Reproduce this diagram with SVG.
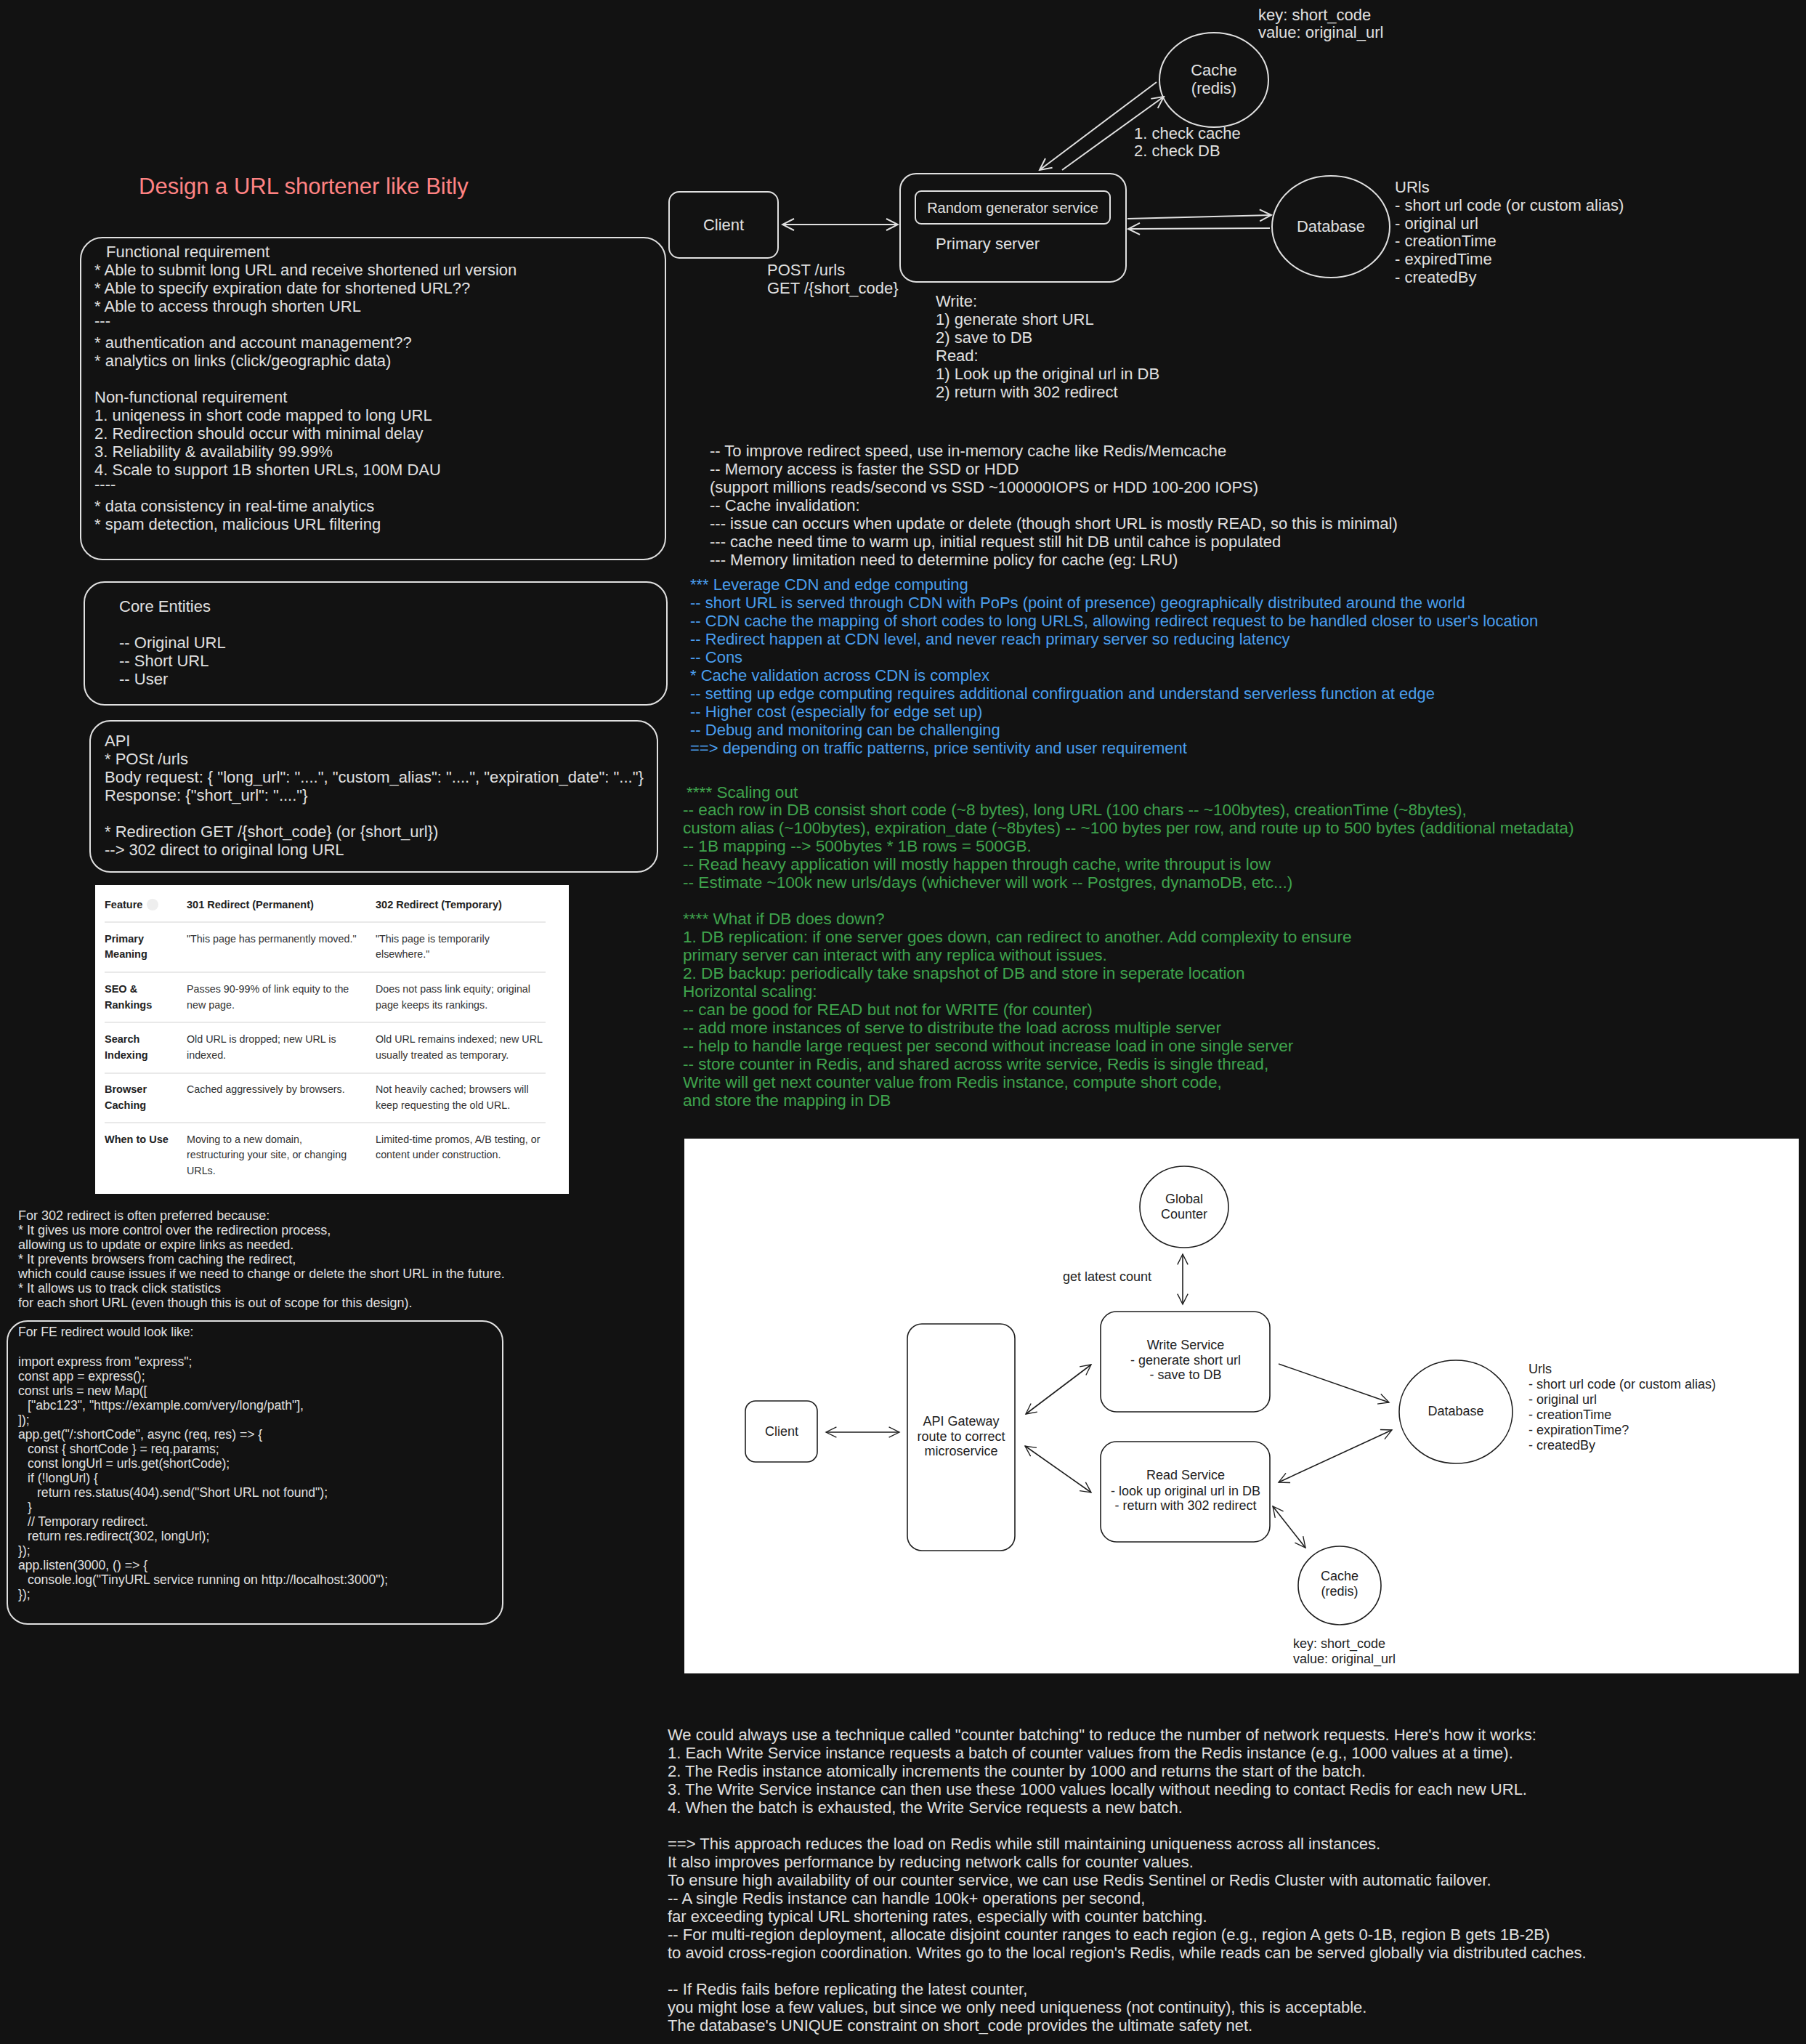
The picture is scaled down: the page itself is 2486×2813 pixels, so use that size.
<svg xmlns="http://www.w3.org/2000/svg" width="2486" height="2813" viewBox="0 0 2486 2813">
<defs>
<marker id="ah" viewBox="0 0 20 20" refX="18" refY="10" markerWidth="20" markerHeight="20" markerUnits="userSpaceOnUse" orient="auto-start-reverse">
<path d="M2,2 L18,10 L2,18" fill="none" stroke="#e0e0e0" stroke-width="2"/>
</marker>
<marker id="ahd" viewBox="0 0 20 20" refX="18" refY="10" markerWidth="18" markerHeight="18" markerUnits="userSpaceOnUse" orient="auto-start-reverse">
<path d="M2,2 L18,10 L2,18" fill="none" stroke="#1e1e1e" stroke-width="1.5"/>
</marker>
</defs>
<style>
text{font-family:"Liberation Sans",Arial,sans-serif}
.w{fill:#e0e0e0;font-size:22px}
.l{fill:#e0e0e0;font-size:22px}
.b{fill:#4a9eed;font-size:22px}
.g{fill:#3fa34d;font-size:22.6px}
.s{fill:#e0e0e0;font-size:18px}
.c{fill:#e0e0e0;font-size:17.6px}
.box{fill:none;stroke:#e0e0e0;stroke-width:2}
.conn{fill:none;stroke:#e0e0e0;stroke-width:2}
.tb{fill:#333;font-size:14.3px}
.th{fill:#222;font-size:14.5px;font-weight:bold}
.sep{stroke:#e2e2e2;stroke-width:1.5}
.dk{fill:none;stroke:#1e1e1e;stroke-width:1.6}
.dt{fill:#1e1e1e;font-size:18px}
.dc{fill:none;stroke:#1e1e1e;stroke-width:1.6}
</style>
<rect width="2486" height="2813" fill="#121212"/>

<text x="191" y="267" fill="#ff8383" font-size="31" id="title">Design a URL shortener like Bitly</text>

<g id="requirements">
<rect class="box" x="111" y="327" width="805" height="443" rx="30"/>
<text class="l" x="146" y="354">Functional requirement</text>
<text class="l" x="130" y="379">* Able to submit long URL and receive shortened url version</text>
<text class="l" x="130" y="404">* Able to specify expiration date for shortened URL??</text>
<text class="l" x="130" y="429">* Able to access through shorten URL</text>
<text class="l" x="130" y="449">---</text>
<text class="l" x="130" y="479">* authentication and account management??</text>
<text class="l" x="130" y="504">* analytics on links (click/geographic data)</text>
<text class="l" x="130" y="554">Non-functional requirement</text>
<text class="l" x="130" y="579">1. uniqeness in short code mapped to long URL</text>
<text class="l" x="130" y="604">2. Redirection should occur with minimal delay</text>
<text class="l" x="130" y="629">3. Reliability &amp; availability 99.99%</text>
<text class="l" x="130" y="654">4. Scale to support 1B shorten URLs, 100M DAU</text>
<text class="l" x="130" y="674">----</text>
<text class="l" x="130" y="704">* data consistency in real-time analytics</text>
<text class="l" x="130" y="729">* spam detection, malicious URL filtering</text>
</g>

<g id="core-entities">
<rect class="box" x="116" y="801" width="802" height="169" rx="28"/>
<text class="l" x="164" y="842">Core Entities</text>
<text class="l" x="164" y="892">-- Original URL</text>
<text class="l" x="164" y="917">-- Short URL</text>
<text class="l" x="164" y="942">-- User</text>
</g>

<g id="api">
<rect class="box" x="124" y="992" width="781" height="208" rx="28"/>
<text class="l" x="144" y="1027">API</text>
<text class="l" x="144" y="1052">* POSt /urls</text>
<text class="l" x="144" y="1077">Body request: { "long_url": "....", "custom_alias": "....", "expiration_date": "..."}</text>
<text class="l" x="144" y="1102">Response: {"short_url": "...."}</text>
<text class="l" x="144" y="1152">* Redirection GET /{short_code} (or {short_url})</text>
<text class="l" x="144" y="1177">--&gt; 302 direct to original long URL</text>
</g>

<g id="redirect-table">
<rect x="131" y="1218" width="652" height="425" fill="#ffffff"/>
<text class="th" x="144" y="1250">Feature</text>
<circle cx="210" cy="1245" r="8" fill="#eeeeee"/>
<text class="th" x="257" y="1250">301 Redirect (Permanent)</text>
<text class="th" x="517" y="1250">302 Redirect (Temporary)</text>
<line class="sep" x1="144" y1="1269" x2="751" y2="1269"/>
<text class="th" x="144" y="1297">Primary</text><text class="th" x="144" y="1318">Meaning</text>
<text class="tb" x="257" y="1297">"This page has permanently moved."</text>
<text class="tb" x="517" y="1297">"This page is temporarily</text><text class="tb" x="517" y="1318">elsewhere."</text>
<line class="sep" x1="144" y1="1338" x2="751" y2="1338"/>
<text class="th" x="144" y="1366">SEO &amp;</text><text class="th" x="144" y="1388">Rankings</text>
<text class="tb" x="257" y="1366">Passes 90-99% of link equity to the</text><text class="tb" x="257" y="1388">new page.</text>
<text class="tb" x="517" y="1366">Does not pass link equity; original</text><text class="tb" x="517" y="1388">page keeps its rankings.</text>
<line class="sep" x1="144" y1="1407" x2="751" y2="1407"/>
<text class="th" x="144" y="1435">Search</text><text class="th" x="144" y="1457">Indexing</text>
<text class="tb" x="257" y="1435">Old URL is dropped; new URL is</text><text class="tb" x="257" y="1457">indexed.</text>
<text class="tb" x="517" y="1435">Old URL remains indexed; new URL</text><text class="tb" x="517" y="1457">usually treated as temporary.</text>
<line class="sep" x1="144" y1="1477" x2="751" y2="1477"/>
<text class="th" x="144" y="1504">Browser</text><text class="th" x="144" y="1526">Caching</text>
<text class="tb" x="257" y="1504">Cached aggressively by browsers.</text>
<text class="tb" x="517" y="1504">Not heavily cached; browsers will</text><text class="tb" x="517" y="1526">keep requesting the old URL.</text>
<line class="sep" x1="144" y1="1545" x2="751" y2="1545"/>
<text class="th" x="144" y="1573">When to Use</text>
<text class="tb" x="257" y="1573">Moving to a new domain,</text><text class="tb" x="257" y="1594">restructuring your site, or changing</text><text class="tb" x="257" y="1616">URLs.</text>
<text class="tb" x="517" y="1573">Limited-time promos, A/B testing, or</text><text class="tb" x="517" y="1594">content under construction.</text>
</g>

<g id="why-302">
<text class="s" x="25" y="1679">For 302 redirect is often preferred because:</text>
<text class="s" x="25" y="1699">* It gives us more control over the redirection process,</text>
<text class="s" x="25" y="1719">allowing us to update or expire links as needed.</text>
<text class="s" x="25" y="1739">* It prevents browsers from caching the redirect,</text>
<text class="s" x="25" y="1759">which could cause issues if we need to change or delete the short URL in the future.</text>
<text class="s" x="25" y="1779">* It allows us to track click statistics</text>
<text class="s" x="25" y="1799">for each short URL (even though this is out of scope for this design).</text>
</g>

<g id="fe-code">
<rect class="box" x="10" y="1818" width="682" height="417" rx="28"/>
<text class="c" x="25" y="1839">For FE redirect would look like:</text>
<text class="c" x="25" y="1880">import express from "express";</text>
<text class="c" x="25" y="1900">const app = express();</text>
<text class="c" x="25" y="1920">const urls = new Map([</text>
<text class="c" x="38" y="1940">["abc123", "https://example.com/very/long/path"],</text>
<text class="c" x="25" y="1960">]);</text>
<text class="c" x="25" y="1980">app.get("/:shortCode", async (req, res) =&gt; {</text>
<text class="c" x="38" y="2000">const { shortCode } = req.params;</text>
<text class="c" x="38" y="2020">const longUrl = urls.get(shortCode);</text>
<text class="c" x="38" y="2040">if (!longUrl) {</text>
<text class="c" x="51" y="2060">return res.status(404).send("Short URL not found");</text>
<text class="c" x="38" y="2080">}</text>
<text class="c" x="38" y="2100">// Temporary redirect.</text>
<text class="c" x="38" y="2120">return res.redirect(302, longUrl);</text>
<text class="c" x="25" y="2140">});</text>
<text class="c" x="25" y="2160">app.listen(3000, () =&gt; {</text>
<text class="c" x="38" y="2180">console.log("TinyURL service running on http://localhost:3000");</text>
<text class="c" x="25" y="2200">});</text>
</g>

<g id="client">
<rect class="box" x="921" y="264" width="150" height="91" rx="14"/>
<text class="w" x="996" y="317" text-anchor="middle">Client</text>
</g>
<g id="primary-server">
<rect class="box" x="1239" y="239" width="311" height="149" rx="22"/>
<text class="w" x="1288" y="343">Primary server</text>
</g>
<g id="random-generator">
<rect class="box" x="1260" y="263" width="268" height="45" rx="8"/>
<text class="w" x="1394" y="293" text-anchor="middle" style="font-size:20px">Random generator service</text>
</g>
<g id="cache">
<ellipse class="box" cx="1671" cy="110" rx="75" ry="65"/>
<text class="w" x="1671" y="104" text-anchor="middle">Cache</text>
<text class="w" x="1671" y="129" text-anchor="middle">(redis)</text>
</g>
<g id="database">
<ellipse class="box" cx="1832" cy="312" rx="81" ry="70"/>
<text class="w" x="1832" y="319" text-anchor="middle">Database</text>
</g>
<g id="top-labels">
<text class="w" x="1732" y="28">key: short_code</text>
<text class="w" x="1732" y="52">value: original_url</text>
<text class="w" x="1561" y="191">1. check cache</text>
<text class="w" x="1561" y="215">2. check DB</text>
<text class="w" x="1056" y="379">POST /urls</text>
<text class="w" x="1056" y="404">GET /{short_code}</text>
<text class="w" x="1920" y="265">URls</text>
<text class="w" x="1920" y="290">- short url code (or custom alias)</text>
<text class="w" x="1920" y="315">- original url</text>
<text class="w" x="1920" y="339">- creationTime</text>
<text class="w" x="1920" y="364">- expiredTime</text>
<text class="w" x="1920" y="389">- createdBy</text>
<text class="w" x="1288" y="422">Write:</text>
<text class="w" x="1288" y="447">1) generate short URL</text>
<text class="w" x="1288" y="472">2) save to DB</text>
<text class="w" x="1288" y="497">Read:</text>
<text class="w" x="1288" y="522">1) Look up the original url in DB</text>
<text class="w" x="1288" y="547">2) return with 302 redirect</text>
</g>
<g id="top-connectors">
<line class="conn" x1="1077" y1="309" x2="1236" y2="309" marker-start="url(#ah)" marker-end="url(#ah)"/>
<line class="conn" x1="1552" y1="301" x2="1750" y2="296" marker-end="url(#ah)"/>
<line class="conn" x1="1748" y1="314" x2="1553" y2="315" marker-end="url(#ah)"/>
<line class="conn" x1="1592" y1="113" x2="1431" y2="234" marker-end="url(#ah)"/>
<line class="conn" x1="1462" y1="234" x2="1602" y2="133" marker-end="url(#ah)"/>
</g>

<g id="notes-cache">
<text class="w" x="977" y="628">-- To improve redirect speed, use in-memory cache like Redis/Memcache</text>
<text class="w" x="977" y="653">-- Memory access is faster the SSD or HDD</text>
<text class="w" x="977" y="678">(support millions reads/second vs SSD ~100000IOPS or HDD 100-200 IOPS)</text>
<text class="w" x="977" y="703">-- Cache invalidation:</text>
<text class="w" x="977" y="728">--- issue can occurs when update or delete (though short URL is mostly READ, so this is minimal)</text>
<text class="w" x="977" y="753">--- cache need time to warm up, initial request still hit DB until cahce is populated</text>
<text class="w" x="977" y="778">--- Memory limitation need to determine policy for cache (eg: LRU)</text>
</g>
<g id="notes-cdn">
<text class="b" x="950" y="812">*** Leverage CDN and edge computing</text>
<text class="b" x="950" y="837">-- short URL is served through CDN with PoPs (point of presence) geographically distributed around the world</text>
<text class="b" x="950" y="862">-- CDN cache the mapping of short codes to long URLS, allowing redirect request to be handled closer to user's location</text>
<text class="b" x="950" y="887">-- Redirect happen at CDN level, and never reach primary server so reducing latency</text>
<text class="b" x="950" y="912">-- Cons</text>
<text class="b" x="950" y="937">* Cache validation across CDN is complex</text>
<text class="b" x="950" y="962">-- setting up edge computing requires additional confirguation and understand serverless function at edge</text>
<text class="b" x="950" y="987">-- Higher cost (especially for edge set up)</text>
<text class="b" x="950" y="1012">-- Debug and monitoring can be challenging</text>
<text class="b" x="950" y="1037">==&gt; depending on traffic patterns, price sentivity and user requirement</text>
</g>
<g id="notes-scaling">
<text class="g" x="945" y="1098">**** Scaling out</text>
<text class="g" x="940" y="1122">-- each row in DB consist short code (~8 bytes), long URL (100 chars -- ~100bytes), creationTime (~8bytes),</text>
<text class="g" x="940" y="1147">custom alias (~100bytes), expiration_date (~8bytes) -- ~100 bytes per row, and route up to 500 bytes (additional metadata)</text>
<text class="g" x="940" y="1172">-- 1B mapping --&gt; 500bytes * 1B rows = 500GB.</text>
<text class="g" x="940" y="1197">-- Read heavy application will mostly happen through cache, write throuput is low</text>
<text class="g" x="940" y="1222">-- Estimate ~100k new urls/days (whichever will work -- Postgres, dynamoDB, etc...)</text>
<text class="g" x="940" y="1272">**** What if DB does down?</text>
<text class="g" x="940" y="1297">1. DB replication: if one server goes down, can redirect to another. Add complexity to ensure</text>
<text class="g" x="940" y="1322">primary server can interact with any replica without issues.</text>
<text class="g" x="940" y="1347">2. DB backup: periodically take snapshot of DB and store in seperate location</text>
<text class="g" x="940" y="1372">Horizontal scaling:</text>
<text class="g" x="940" y="1397">-- can be good for READ but not for WRITE (for counter)</text>
<text class="g" x="940" y="1422">-- add more instances of serve to distribute the load across multiple server</text>
<text class="g" x="940" y="1447">-- help to handle large request per second without increase load in one single server</text>
<text class="g" x="940" y="1472">-- store counter in Redis, and shared across write service, Redis is single thread,</text>
<text class="g" x="940" y="1497">Write will get next counter value from Redis instance, compute short code,</text>
<text class="g" x="940" y="1522">and store the mapping in DB</text>
</g>

<rect x="942" y="1567" width="1534" height="736" fill="#ffffff"/>
<g id="global-counter">
<ellipse class="dk" cx="1630" cy="1661" rx="61" ry="56"/>
<text class="dt" x="1630" y="1656" text-anchor="middle">Global</text>
<text class="dt" x="1630" y="1677" text-anchor="middle">Counter</text>
</g>
<g id="write-service">
<rect class="dk" x="1515" y="1805" width="233" height="138" rx="22"/>
<text class="dt" x="1632" y="1857" text-anchor="middle">Write Service</text>
<text class="dt" x="1632" y="1878" text-anchor="middle">- generate short url</text>
<text class="dt" x="1632" y="1898" text-anchor="middle">- save to DB</text>
</g>
<g id="api-gateway">
<rect class="dk" x="1249" y="1822" width="148" height="312" rx="20"/>
<text class="dt" x="1323" y="1962" text-anchor="middle">API Gateway</text>
<text class="dt" x="1323" y="1983" text-anchor="middle">route to correct</text>
<text class="dt" x="1323" y="2003" text-anchor="middle">microservice</text>
</g>
<g id="client-2">
<rect class="dk" x="1026" y="1928" width="99" height="84" rx="14"/>
<text class="dt" x="1076" y="1976" text-anchor="middle">Client</text>
</g>
<g id="read-service">
<rect class="dk" x="1515" y="1984" width="233" height="138" rx="22"/>
<text class="dt" x="1632" y="2036" text-anchor="middle">Read Service</text>
<text class="dt" x="1632" y="2058" text-anchor="middle">- look up original url in DB</text>
<text class="dt" x="1632" y="2078" text-anchor="middle">- return with 302 redirect</text>
</g>
<g id="database-2">
<ellipse class="dk" cx="2004" cy="1943" rx="78" ry="71"/>
<text class="dt" x="2004" y="1948" text-anchor="middle">Database</text>
</g>
<g id="cache-2">
<ellipse class="dk" cx="1844" cy="2182" rx="57" ry="54"/>
<text class="dt" x="1844" y="2175" text-anchor="middle">Cache</text>
<text class="dt" x="1844" y="2196" text-anchor="middle">(redis)</text>
</g>
<g id="bottom-labels">
<text class="dt" x="1463" y="1763">get latest count</text>
<text class="dt" x="2104" y="1890">Urls</text>
<text class="dt" x="2104" y="1911">- short url code (or custom alias)</text>
<text class="dt" x="2104" y="1932">- original url</text>
<text class="dt" x="2104" y="1953">- creationTime</text>
<text class="dt" x="2104" y="1974">- expirationTime?</text>
<text class="dt" x="2104" y="1995">- createdBy</text>
<text class="dt" x="1780" y="2268">key: short_code</text>
<text class="dt" x="1780" y="2289">value: original_url</text>
</g>
<g id="bottom-connectors">
<line class="dc" x1="1628" y1="1726" x2="1628" y2="1795" marker-start="url(#ahd)" marker-end="url(#ahd)"/>
<line class="dc" x1="1137" y1="1971" x2="1238" y2="1971" marker-start="url(#ahd)" marker-end="url(#ahd)"/>
<line class="dc" x1="1412" y1="1946" x2="1502" y2="1878" marker-start="url(#ahd)" marker-end="url(#ahd)"/>
<line class="dc" x1="1760" y1="1877" x2="1912" y2="1930" marker-end="url(#ahd)"/>
<line class="dc" x1="1411" y1="1990" x2="1502" y2="2054" marker-start="url(#ahd)" marker-end="url(#ahd)"/>
<line class="dc" x1="1760" y1="2040" x2="1916" y2="1968" marker-start="url(#ahd)" marker-end="url(#ahd)"/>
<line class="dc" x1="1752" y1="2073" x2="1797" y2="2130" marker-start="url(#ahd)" marker-end="url(#ahd)"/>
</g>

<g id="notes-batching">
<text class="w" x="919" y="2395">We could always use a technique called "counter batching" to reduce the number of network requests. Here's how it works:</text>
<text class="w" x="919" y="2420">1. Each Write Service instance requests a batch of counter values from the Redis instance (e.g., 1000 values at a time).</text>
<text class="w" x="919" y="2445">2. The Redis instance atomically increments the counter by 1000 and returns the start of the batch.</text>
<text class="w" x="919" y="2470">3. The Write Service instance can then use these 1000 values locally without needing to contact Redis for each new URL.</text>
<text class="w" x="919" y="2495">4. When the batch is exhausted, the Write Service requests a new batch.</text>
<text class="w" x="919" y="2545">==&gt; This approach reduces the load on Redis while still maintaining uniqueness across all instances.</text>
<text class="w" x="919" y="2570">It also improves performance by reducing network calls for counter values.</text>
<text class="w" x="919" y="2595">To ensure high availability of our counter service, we can use Redis Sentinel or Redis Cluster with automatic failover.</text>
<text class="w" x="919" y="2620">-- A single Redis instance can handle 100k+ operations per second,</text>
<text class="w" x="919" y="2645">far exceeding typical URL shortening rates, especially with counter batching.</text>
<text class="w" x="919" y="2670">-- For multi-region deployment, allocate disjoint counter ranges to each region (e.g., region A gets 0-1B, region B gets 1B-2B)</text>
<text class="w" x="919" y="2695">to avoid cross-region coordination. Writes go to the local region's Redis, while reads can be served globally via distributed caches.</text>
<text class="w" x="919" y="2745">-- If Redis fails before replicating the latest counter,</text>
<text class="w" x="919" y="2770">you might lose a few values, but since we only need uniqueness (not continuity), this is acceptable.</text>
<text class="w" x="919" y="2795">The database's UNIQUE constraint on short_code provides the ultimate safety net.</text>
</g>
</svg>
